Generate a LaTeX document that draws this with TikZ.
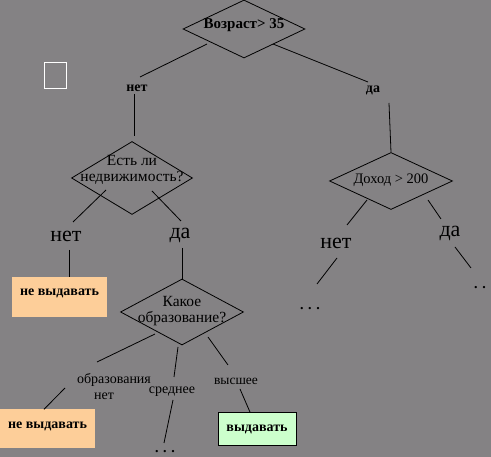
\documentclass[tikz,border=0pt]{standalone}
\usepackage{fontspec}
\setmainfont{Liberation Serif}
\usetikzlibrary{shapes.geometric}
\definecolor{bg}{RGB}{132,130,132}
\definecolor{orng}{RGB}{253,206,153}
\definecolor{grn}{RGB}{204,255,204}
\begin{document}
\begin{tikzpicture}[x=1pt,y=-1pt,
  dec/.style={draw, diamond, inner sep=0pt, line width=0.8pt},
  dtext/.style={align=center, inner sep=0pt, font=\fontsize{15.5}{16}\selectfont},
  smallb/.style={inner sep=0pt, font=\bfseries\fontsize{14}{16}\selectfont},
  lbl/.style={inner sep=0pt, font=\fontsize{14}{16}\selectfont},
  big/.style={inner sep=0pt, font=\fontsize{22}{24}\selectfont},
  res/.style={fill=orng, inner sep=0pt, font=\bfseries\fontsize{14}{16}\selectfont},
  conn/.style={line width=0.8pt},
  dots/.style={inner sep=0pt, font=\bfseries\fontsize{14}{16}\selectfont}]
\useasboundingbox (0,0) rectangle (491,457);
\fill[bg] (0,0) rectangle (491,457);
\draw[white, line width=1pt] (44,63) rectangle (66,89);

% top decision
\node[dec, minimum width=122pt, minimum height=58pt] (d1) at (244,29) {};
\node[dtext, font=\bfseries\fontsize{15}{17}\selectfont] (t1) at (244,25) {Возраст> 35};
\coordinate (c1a) at (207,44); \coordinate (c1b) at (140,77);
\node[smallb] (n1) at (137,88) {нет};
\coordinate (c1c) at (134,94); \coordinate (c1d) at (134,136);
\coordinate (c2a) at (273,44); \coordinate (c2b) at (368,82);
\node[smallb] (y1) at (373,90) {да};
\coordinate (c2c) at (389,103);
\draw[conn] (c1a) -- (c1b);
\draw[conn] (c1c) -- (c1d);
\draw[conn] (c2a) -- (c2b);

% left decision
\node[dec, minimum width=121pt, minimum height=73pt] (d2) at (132,178) {};
\node[dtext] (t2) at (132,170) {Есть ли\\недвижимость?};
\coordinate (c3a) at (106,190); \coordinate (c3b) at (73,222);
\coordinate (c4a) at (152,191); \coordinate (c4b) at (181,221);
\draw[conn] (c3a) -- (c3b);
\draw[conn] (c4a) -- (c4b);
\node[big] (n2) at (66,236) {нет};
\node[big] (y2) at (180,235) {да};
\coordinate (c5a) at (69,250);
\coordinate (c6a) at (182,248);

\node[res, minimum width=95pt, text height=19pt, text depth=21pt] (b1) at (59.5,297) {не выдавать};
\draw[conn] (c5a) -- (b1.north -| c5a);

% education decision
\node[dec, minimum width=123pt, minimum height=66pt] (d3) at (182,312) {};
\draw[conn] (c6a) -- (d3.north);
\node[dtext] (t3) at (182,311) {Какое\\образование?};
\coordinate (c7a) at (155,334); \coordinate (c7b) at (97,362);
\draw[conn] (c7a) -- (c7b);
\node[lbl] (e1) at (114,380) {образования};
\node[lbl] (e1b) at (104,396) {нет};
\coordinate (c7c) at (65,388);
\node[res, minimum width=95pt, text height=19pt, text depth=20pt] (b2) at (47.5,429) {не выдавать};
\draw[conn] (c7c) -- (b2.north -| 44,0);

\coordinate (c8a) at (178,347); \coordinate (c8b) at (174,377);
\draw[conn] (c8a) -- (c8b);
\node[inner sep=0pt, font=\fontsize{14}{16}\selectfont] (e2) at (172,392) {среднее};
\coordinate (c8c) at (173,400); \coordinate (c8d) at (164,443);
\draw[conn] (c8c) -- (c8d);
\node[dots] (x1) at (165,452) {. . .};

\coordinate (c9a) at (208,337); \coordinate (c9b) at (228,365);
\draw[conn] (c9a) -- (c9b);
\node[lbl, font=\fontsize{13.5}{15}\selectfont] (e3) at (236,381) {высшее};
\coordinate (c9c) at (240,389);
\node[draw, line width=0.8pt, fill=grn, inner sep=0pt, font=\bfseries\fontsize{14}{16}\selectfont, minimum width=78pt, text height=19pt, text depth=14pt] (b3) at (257,429) {выдавать};
\draw[conn] (c9c) -- (b3.north -| 250,0);

% right decision
\node[dec, minimum width=123pt, minimum height=57pt] (d4) at (391,181) {};
\draw[conn] (c2c) -- (d4.north);
\node[dtext, font=\fontsize{14.5}{16}\selectfont] (t4) at (391,180) {Доход > 200};
\coordinate (c10a) at (367,200); \coordinate (c10b) at (347,225);
\draw[conn] (c10a) -- (c10b);
\node[big] (n4) at (336,243) {нет};
\coordinate (c10c) at (337,258); \coordinate (c10d) at (317,284);
\draw[conn] (c10c) -- (c10d);
\node[dots] (x2) at (310,309) {. . .};
\coordinate (c11a) at (428,200); \coordinate (c11b) at (441,219);
\draw[conn] (c11a) -- (c11b);
\node[big] (y4) at (450,233) {да};
\coordinate (c11c) at (455,247); \coordinate (c11d) at (471,268);
\draw[conn] (c11c) -- (c11d);
\node[dots] (x3) at (480,288) {. .};
\end{tikzpicture}
\end{document}
